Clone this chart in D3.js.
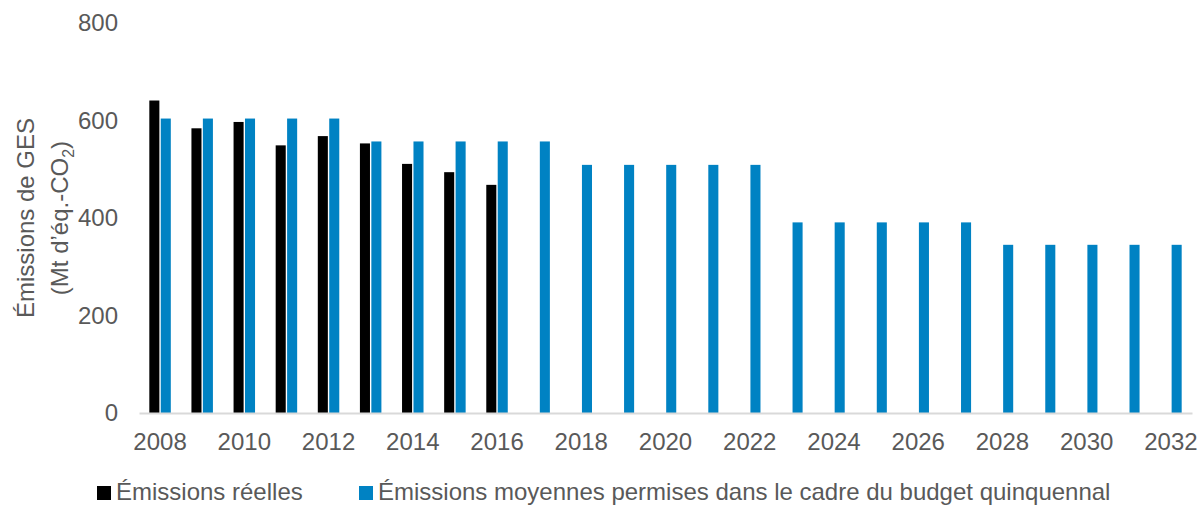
<!DOCTYPE html>
<html>
<head>
<meta charset="utf-8">
<script src="https://cdn.jsdelivr.net/npm/d3@7"></script>
<style>
  body { margin: 0; background: #fff; }
  text { font-family: "Liberation Sans", Arial, sans-serif; fill: #595959; }
</style>
</head>
<body>
<div id="chart"></div>
<script>
// data
const years = d3.range(2008, 2033).map(String);
const actual = [641, 584, 597, 549, 568, 553, 511, 494, 468];          // 2008-2016
const budget = [604, 604, 604, 604, 604,
                557, 557, 557, 557, 557,
                509, 509, 509, 509, 509,
                391, 391, 391, 391, 391,
                345, 345, 345, 345, 345];                                // 2008-2032
const yTicks = [0, 200, 400, 600, 800];
const seriesNames = ["Émissions réelles", "Émissions moyennes permises dans le cadre du budget quinquennal"];
const colors = ["#000000", "#0082C3"];

const W = 1203, H = 505;
const margin = { top: 23, right: 11, bottom: 92, left: 139 };
const width = W - margin.left - margin.right,
      height = H - margin.top - margin.bottom;

const svg = d3.select("#chart").append("svg")
    .attr("width", W).attr("height", H);
const g = svg.append("g")
    .attr("transform", `translate(${margin.left},${margin.top})`);

const x = d3.scaleBand().domain(years).range([0, width]).paddingInner(0.49).paddingOuter(0.245);
const xs = d3.scaleBand().domain([0, 1]).range([0, x.bandwidth()]).paddingInner(0.12);
const y = d3.scaleLinear().domain([0, 800]).range([height, 0]);

// bars
const rows = years.map((yr, i) => ({ year: yr, vals: [i < actual.length ? actual[i] : null, budget[i]] }));
const grp = g.selectAll(".grp").data(rows).join("g")
    .attr("transform", d => `translate(${x(d.year)},0)`);
grp.selectAll("rect")
    .data(d => d.vals.map((v, k) => ({ v, k })).filter(e => e.v != null))
    .join("rect")
    .attr("x", e => xs(e.k))
    .attr("width", xs.bandwidth())
    .attr("y", e => y(e.v))
    .attr("height", e => height - y(e.v))
    .attr("fill", e => colors[e.k]);

// x axis
const xAxis = g.append("g")
    .attr("transform", `translate(0,${height})`)
    .call(d3.axisBottom(x).tickValues(years.filter((d, i) => i % 2 === 0)).tickSize(0).tickPadding(20));
xAxis.select(".domain").attr("stroke", "#d9d9d9").attr("stroke-width", 2);
xAxis.selectAll("text").style("font-size", "24px").attr("fill", "#595959");

// y axis (labels only)
const yAxis = g.append("g")
    .call(d3.axisLeft(y).tickValues(yTicks).tickSize(0).tickPadding(21));
yAxis.select(".domain").remove();
yAxis.selectAll("text").style("font-size", "24px").attr("fill", "#595959");

// y title
const title = svg.append("text")
    .attr("transform", "translate(0,218) rotate(-90)")
    .attr("text-anchor", "middle")
    .style("font-size", "24px");
title.append("tspan").attr("x", 0).attr("y", 34).text("Émissions de GES");
const l2 = title.append("tspan").attr("x", 0).attr("y", 68);
l2.append("tspan").text("(Mt d’éq.-CO");
l2.append("tspan").text("2").style("font-size", "16px").attr("dy", 6);
l2.append("tspan").text(")").attr("dy", -6);

// legend
const legendX = [97, 359];
const leg = svg.selectAll(".leg").data(seriesNames).join("g")
    .attr("transform", (d, i) => `translate(${legendX[i]},486)`);
leg.append("rect").attr("width", 14).attr("height", 14).attr("fill", (d, i) => colors[i]);
leg.append("text").attr("x", 19).attr("y", 14).style("font-size", "24px").text(d => d);
</script>
</body>
</html>
